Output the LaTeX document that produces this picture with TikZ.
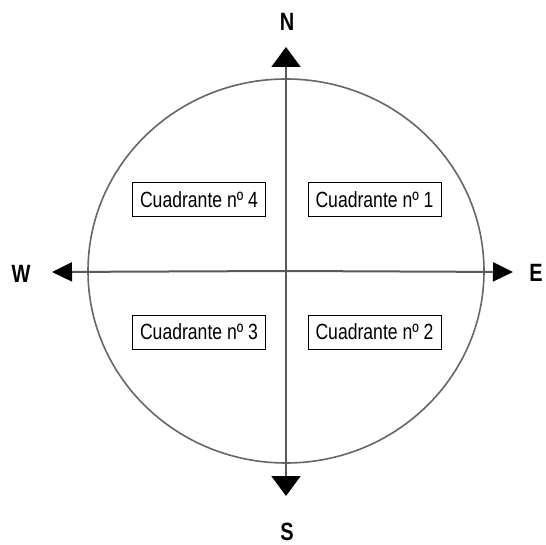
\documentclass[tikz,border=0pt]{standalone}
\usepackage{fontspec}
\setmainfont{Liberation Sans}[FakeStretch=0.8]
\usetikzlibrary{arrows.meta}
\tikzset{
  qbox/.style={draw=black, line width=0.9pt, minimum width=133pt, minimum height=34pt, inner sep=0pt, font=\fontsize{22}{24}\selectfont},
  dirlabel/.style={font=\fontsize{25}{27}\selectfont\bfseries, inner sep=0pt},
  axis/.style={draw=black!65, line width=2pt},
  vtip/.style={-{Triangle[length=20pt,width=29pt,color=black]}},
  htip/.style={-{Triangle[length=20pt,width=19pt,color=black]}},
}
\begin{document}
\begin{tikzpicture}[x=1pt,y=-1pt]
\useasboundingbox (0,0) rectangle (546,545);
\fill[white] (0,0) rectangle (546,545);
\coordinate (c) at (286,271);
\draw[black!60, line width=1.6pt] (c) ellipse [x radius=198, y radius=192];
\coordinate (ntip) at (286,47);
\coordinate (stip) at (286,496);
\coordinate (wtip) at (52,272);
\coordinate (etip) at (513,272);
\draw[axis, vtip] (c) -- (ntip);
\draw[axis, vtip] (c) -- (stip);
\draw[axis, htip] (c) -- (wtip);
\draw[axis, htip] (c) -- (etip);
\node[dirlabel] (N) at (287,22) {N};
\node[dirlabel] (S) at (287,532) {S};
\node[dirlabel] (W) at (21,274) {W};
\node[dirlabel] (E) at (536,273) {E};
\node[qbox] (q4) at (199,199.5) {Cuadrante nº 4};
\node[qbox] (q1) at (374.5,199.5) {Cuadrante nº 1};
\node[qbox] (q3) at (199,332) {Cuadrante nº 3};
\node[qbox] (q2) at (374.5,332) {Cuadrante nº 2};
\end{tikzpicture}
\end{document}
